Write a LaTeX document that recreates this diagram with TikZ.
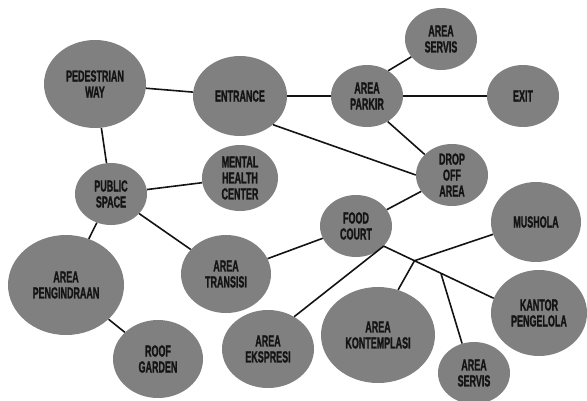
\documentclass[tikz,border=0pt]{standalone}
\usepackage{fontspec}
\usepackage{tikz}
\usetikzlibrary{shapes.geometric}
\newfontfamily\bubblefont{Liberation Sans Bold}[FakeStretch=0.56, FakeBold=1.2]
\definecolor{bubblegray}{RGB}{128,128,128}
\definecolor{linkdark}{RGB}{20,20,20}

\begin{document}
\begin{tikzpicture}[
    x=1pt, y=-1pt,
    every node/.style={font=\bubblefont\fontsize{16}{16}\selectfont},
    bubble/.style={ellipse, fill=bubblegray, draw=none, inner sep=0pt,
                   text=linkdark, align=center},
    sz/.style 2 args={minimum width=#1pt, minimum height=#2pt},
    link/.style={line width=1.6pt, color=linkdark}
]
\useasboundingbox (0,0) rectangle (587,400);

\node[bubble, sz={102}{88}]  (ped)      at (95,84)   {PEDESTRIAN\\WAY};
\node[bubble, sz={94}{80}]   (entr)     at (240,96)  {ENTRANCE};
\node[bubble, sz={72}{62}]   (parkir)   at (367,96)  {AREA\\PARKIR};
\node[bubble, sz={72}{62}]   (servisA)  at (441,39)  {AREA\\SERVIS};
\node[bubble, sz={72}{62}]   (exit)     at (523,96)  {EXIT};
\node[bubble, sz={72}{62}]   (drop)     at (452,175) {DROP\\OFF\\AREA};
\node[bubble, sz={76}{66}]   (mental)   at (240,178) {MENTAL\\HEALTH\\CENTER};
\node[bubble, sz={72}{62}]   (public)   at (111,194) {PUBLIC\\SPACE};
\node[bubble, sz={72}{62}]   (food)     at (356,226) {FOOD\\COURT};
\node[bubble, sz={90}{80}]   (mushola)  at (536,222) {MUSHOLA};
\node[bubble, sz={116}{100}] (peng)     at (66,285)  {AREA\\PENGINDRAAN};
\node[bubble, sz={90}{78}]   (transisi) at (226,274) {AREA\\TRANSISI};
\node[bubble, sz={96}{86}]   (kantor)   at (539,313) {KANTOR\\PENGELOLA};
\node[bubble, sz={114}{96}]  (kont)     at (378,335) {AREA\\KONTEMPLASI};
\node[bubble, sz={90}{78}]   (roof)     at (158,359) {ROOF\\GARDEN};
\node[bubble, sz={92}{78}]   (ekspresi) at (268,349) {AREA\\EKSPRESI};
\node[bubble, sz={72}{62}]   (servisB)  at (474,373) {AREA\\SERVIS};

% Links
\draw[link] (ped)    -- (entr);
\draw[link] (ped)    -- (public);
\draw[link] (entr)   -- (parkir);
\draw[link] (entr.-41) -- (drop.180);
\draw[link] (parkir.50) -- (servisA.211);
\draw[link] (parkir) -- (exit);
\draw[link] (parkir.-51) -- (drop.143);
\draw[link] (public) -- (mental);
\draw[link] (public) -- (peng);
\draw[link] (public) -- (transisi);
\draw[link] (peng)   -- (roof);
\draw[link] (transisi) -- (food);
\draw[link] (drop)   -- (food);
\draw[link] (food.-36) -- (ekspresi.51);
\draw[link] (food.-36) -- (kantor.162)
    coordinate[pos=0.28] (j1) coordinate[pos=0.52] (j2);

% Branches off the food court line
\draw[link] (mushola.196) -- (j1);
\draw[link] (j1) -- (kont.66);
\draw[link] (j2) -- (servisB.112);

\end{tikzpicture}
\end{document}
